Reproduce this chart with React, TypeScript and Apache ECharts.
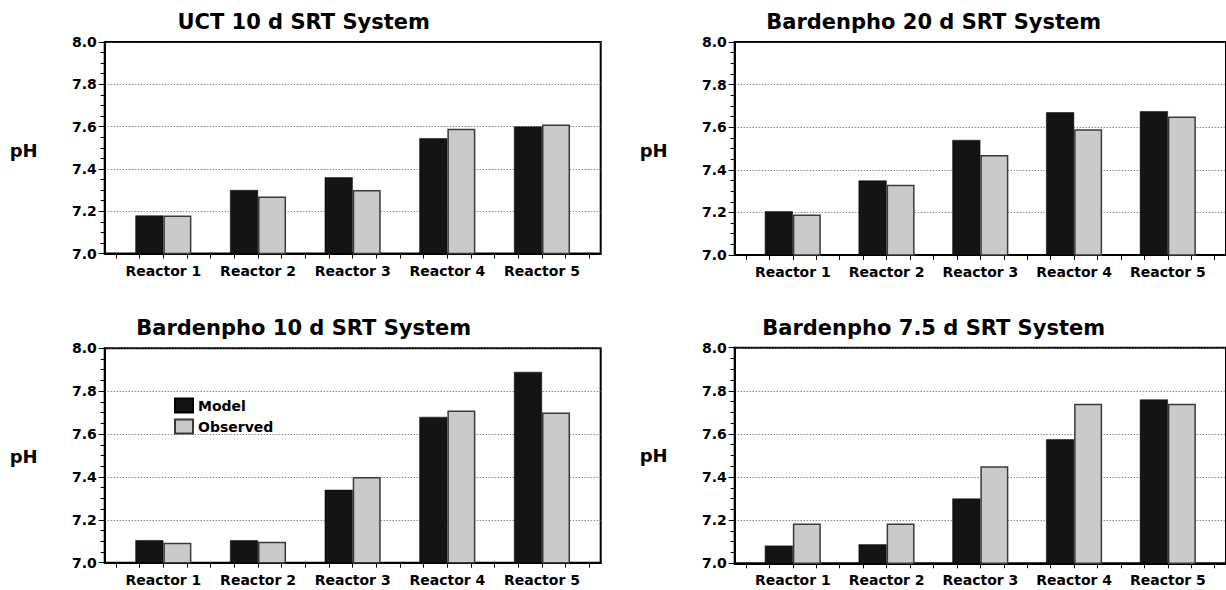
import React, { useEffect, useRef } from "react";
import * as echarts from "echarts";

// ---- data ----
const categories = ["Reactor 1", "Reactor 2", "Reactor 3", "Reactor 4", "Reactor 5"];
const seriesNames = ["Model", "Observed"];
const panelTitles = [
  "UCT 10 d SRT System",
  "Bardenpho 20 d SRT System",
  "Bardenpho 10 d SRT System",
  "Bardenpho 7.5 d SRT System",
];
const uctModel = [7.18, 7.3, 7.36, 7.545, 7.6];
const uctObserved = [7.18, 7.27, 7.3, 7.59, 7.61];
const b20Model = [7.205, 7.35, 7.54, 7.67, 7.675];
const b20Observed = [7.19, 7.33, 7.47, 7.59, 7.65];
const b10Model = [7.105, 7.105, 7.34, 7.68, 7.89];
const b10Observed = [7.093, 7.098, 7.4, 7.71, 7.7];
const b75Model = [7.082, 7.088, 7.3, 7.575, 7.76];
const b75Observed = [7.185, 7.185, 7.45, 7.74, 7.74];
const yMin = 7.0;
const yMax = 8.0;
const yStep = 0.2;
const yAxisName = "pH";

const modelData = [uctModel, b20Model, b10Model, b75Model];
const observedData = [uctObserved, b20Observed, b10Observed, b75Observed];

// ---- layout ----
const GRID_W = 496;
const layout = [
  { left: 104.7, top: 42, height: 211.5 },
  { left: 734.7, top: 42, height: 213 },
  { left: 104.7, top: 348.3, height: 214.4 },
  { left: 734.7, top: 347.7, height: 215.6 },
];
const X_PAD = 0.62;
const FONT = "DejaVu Sans";

export default function App() {
  const ref = useRef<HTMLDivElement>(null);
  useEffect(() => {
    if (!ref.current) return;
    const chart = echarts.init(ref.current, null, { renderer: "svg" });

    const quarterTicks: number[] = [];
    for (let k = -2; k <= (categories.length - 1) * 4 + 2; k++) quarterTicks.push(k / 4);
    const catTicks = categories.map((_, i) => i);

    const grids = layout.map((l) => ({
      left: l.left,
      top: l.top,
      width: GRID_W,
      height: l.height,
      show: true,
      borderColor: "#000",
      borderWidth: 2,
      backgroundColor: "transparent",
      containLabel: false,
    }));

    const xAxes = layout.map((_, i) => ({
      type: "value",
      gridIndex: i,
      min: -X_PAD,
      max: categories.length - 1 + X_PAD,
      axisLine: { show: true, onZero: false, lineStyle: { color: "#000", width: 2 } },
      axisTick: { show: true, length: 5, customValues: quarterTicks, lineStyle: { color: "#000", width: 1 } },
      axisLabel: {
        customValues: catTicks,
        formatter: (v: number) => categories[Math.round(v)] ?? "",
        fontFamily: FONT,
        fontWeight: "bold",
        fontSize: 14,
        color: "#000",
        margin: 10,
      },
      splitLine: { show: false },
    }));

    const yAxes = layout.map((_, i) => ({
      type: "value",
      gridIndex: i,
      min: yMin,
      max: yMax,
      interval: yStep,
      axisLine: { show: true, onZero: false, lineStyle: { color: "#000", width: 2 } },
      axisTick: { show: true, length: 6, lineStyle: { color: "#000", width: 1 } },
      minorTick: { show: true, splitNumber: 4, length: 4, lineStyle: { color: "#000", width: 1 } },
      axisLabel: {
        formatter: (v: number) => v.toFixed(1),
        fontFamily: FONT,
        fontWeight: "bold",
        fontSize: 14,
        color: "#000",
        margin: 8,
      },
      splitLine: { show: true, lineStyle: { color: "#555", width: 1, type: [1, 2] } },
    }));

    const series: any[] = [];
    layout.forEach((_, i) => {
      series.push({
        type: "bar",
        name: seriesNames[0],
        xAxisIndex: i,
        yAxisIndex: i,
        barWidth: 28,
        barGap: "0%",
        data: modelData[i].map((v, j) => [j, v]),
        itemStyle: { color: "#141414", borderColor: "#000", borderWidth: 0.5 },
      });
      series.push({
        type: "bar",
        name: seriesNames[1],
        xAxisIndex: i,
        yAxisIndex: i,
        barWidth: 28,
        barGap: "0%",
        data: observedData[i].map((v, j) => [j, v]),
        itemStyle: { color: "#cacaca", borderColor: "#3a3a3a", borderWidth: 1.5 },
      });
    });

    const texts: any[] = [];
    layout.forEach((l, i) => {
      texts.push({
        type: "text",
        x: l.left + 199,
        y: l.top - 20,
        style: {
          text: panelTitles[i],
          font: `bold 21px "${FONT}"`,
          fill: "#000",
          textAlign: "center",
          textVerticalAlign: "middle",
        },
      });
      texts.push({
        type: "text",
        x: l.left - 81,
        y: l.top + 108,
        style: {
          text: yAxisName,
          font: `bold 18px "${FONT}"`,
          fill: "#000",
          textAlign: "center",
          textVerticalAlign: "middle",
        },
      });
    });

    chart.setOption({
      animation: false,
      grid: grids,
      xAxis: xAxes,
      yAxis: yAxes,
      series,
      legend: {
        show: true,
        data: seriesNames,
        orient: "vertical",
        left: 174,
        top: 397.5,
        padding: 0,
        itemWidth: 18,
        itemHeight: 14,
        itemGap: 5,
        icon: "rect",
        selectedMode: false,
        textStyle: { fontFamily: FONT, fontWeight: "bold", fontSize: 14, color: "#000" },
      },
      graphic: texts,
    });

    return () => chart.dispose();
  }, []);

  return (
    <div
      ref={ref}
      style={{ position: "absolute", left: 0, top: 0, width: 1226, height: 590, background: "#fff" }}
    />
  );
}
